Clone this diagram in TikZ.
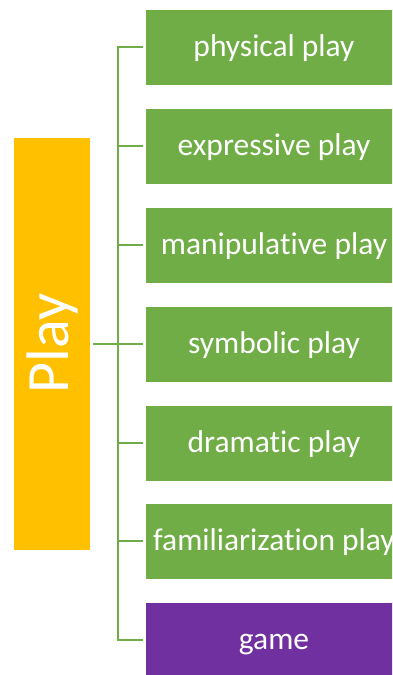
\documentclass[tikz,border=0pt]{standalone}
\usepackage{fontspec}
\setmainfont{Carlito}[RawFeature=-liga]
\definecolor{cgreen}{HTML}{70AD47}
\definecolor{cpurple}{HTML}{7030A0}
\definecolor{corange}{HTML}{FFC000}
\begin{document}
\begin{tikzpicture}[x=1pt,y=-1pt,
  item/.style={rectangle, fill=cgreen, draw=white, line width=0.8pt, minimum width=258pt, minimum height=76pt, inner sep=0pt, text height=24pt, text depth=6pt, text=white, font=\fontsize{31.5}{37}\selectfont},
  gamebox/.style={item, fill=cpurple},
  playbox/.style={rectangle, fill=corange, draw=white, line width=0.8pt, rotate=90, minimum width=413pt, minimum height=77pt, inner sep=0pt, text=white, font=\fontsize{60}{70}\selectfont},
  conn/.style={draw=cgreen, line width=2pt, line join=miter}]
\useasboundingbox (0,0) rectangle (392,675);
\clip (0,0) rectangle (392,675);
\node[playbox] (play) at (52.3,343.5) {Play};
\node[item] (b1) at (274,47) {physical play};
\node[item] (b2) at (274,146) {expressive play};
\node[item] (b3) at (274,245) {manipulative play};
\node[item] (b4) at (274,344) {symbolic play};
\node[item] (b5) at (274,443) {dramatic play};
\node[item] (b6) at (274,541) {familiarization play};
\node[gamebox] (b7) at (274,640) {game};
\coordinate (spine) at (117.5,0);
\draw[conn] ([xshift=-2pt]b1.west) -- (b1.west -| spine) -- (b7.west -| spine) -- ([xshift=-2pt]b7.west);
\foreach \i in {2,...,6}{
  \draw[conn] (b\i.west -| spine) -- ([xshift=-2pt]b\i.west);
}
\draw[conn] ([xshift=2pt]play.south) -- ([xshift=-2pt]play.south -| b4.west);
\end{tikzpicture}
\end{document}
